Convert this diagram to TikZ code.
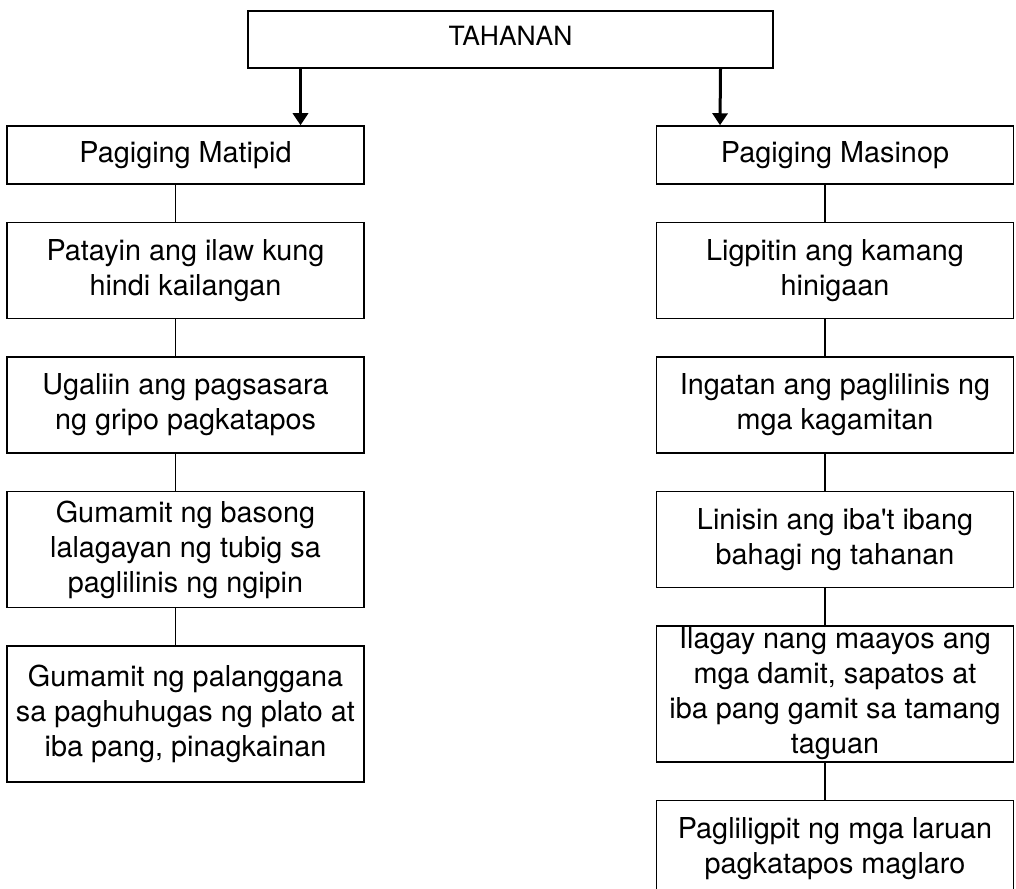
\documentclass[tikz,border=0pt]{standalone}
\usepackage{fontspec}
\setmainfont{TeX Gyre Heros}
\usepackage{tikz}
\usetikzlibrary{arrows.meta, positioning}

\begin{document}
\begin{tikzpicture}[
    x=1pt, y=1pt,
    node distance=37pt,
    topic/.style={rectangle, draw=black, line width=1.5pt, minimum width=525pt, minimum height=57pt, inner sep=0pt, text depth=8pt, text centered, font=\fontsize{26.5}{32}\selectfont},
    item/.style={rectangle, draw=black, line width=1.5pt, minimum width=357pt, minimum height=58pt, inner sep=0pt, align=center, font=\fontsize{28.8}{35}\selectfont},
    arrow/.style={-{Triangle[length=12pt, width=15pt]}, line width=3pt},
    link/.style={line width=1.5pt}
]
\useasboundingbox (0,0) rectangle (1016,-888);

% Top node
\node[topic] (tahanan) at (510.5,-39.5) {TAHANAN};

% Left column
\node[item] (matipid) at (185.5,-155) {Pagiging Matipid};
\node[item, below=of matipid, minimum height=96pt] (ilaw) {Patayin ang ilaw kung\\hindi kailangan};
\node[item, below=of ilaw, minimum height=96pt] (gripo) {Ugaliin ang pagsasara\\ng gripo pagkatapos};
\node[item, below=of gripo, minimum height=116pt] (baso) {Gumamit ng basong\\lalagayan ng tubig sa\\paglilinis ng ngipin};
\node[item, below=of baso, minimum height=136pt] (palanggana) {Gumamit ng palanggana\\sa paghuhugas ng plato at\\iba pang, pinagkainan};

% Right column
\node[item] (masinop) at (835,-155) {Pagiging Masinop};
\node[item, below=of masinop, minimum height=96pt] (kama) {Ligpitin ang kamang\\hinigaan};
\node[item, below=of kama, minimum height=96pt] (kagamitan) {Ingatan ang paglilinis ng\\mga kagamitan};
\node[item, below=of kagamitan, minimum height=96pt] (bahagi) {Linisin ang iba\textquotesingle t ibang\\bahagi ng tahanan};
\node[item, below=of bahagi, minimum height=136pt] (damit) {Ilagay nang maayos ang\\mga damit, sapatos at\\iba pang gamit sa tamang\\taguan};
\node[item, below=of damit, minimum height=96pt] (laruan) {Pagliligpit ng mga laruan\\pagkatapos maglaro};

% Arrows from the top
\draw[arrow] ([xshift=-210pt]tahanan.south) -- ([xshift=115pt]matipid.north);
\draw[arrow] ([xshift=210pt]tahanan.south) -- ([xshift=-115pt]masinop.north);

% Links down each column
\draw[link] ([xshift=-10pt]matipid.south) -- ([xshift=-10pt]ilaw.north);
\draw[link] ([xshift=-10pt]ilaw.south) -- ([xshift=-10pt]gripo.north);
\draw[link] ([xshift=-10pt]gripo.south) -- ([xshift=-10pt]baso.north);
\draw[link] ([xshift=-10pt]baso.south) -- ([xshift=-10pt]palanggana.north);

\draw[link] ([xshift=-10pt]masinop.south) -- ([xshift=-10pt]kama.north);
\draw[link] ([xshift=-10pt]kama.south) -- ([xshift=-10pt]kagamitan.north);
\draw[link] ([xshift=-10pt]kagamitan.south) -- ([xshift=-10pt]bahagi.north);
\draw[link] ([xshift=-10pt]bahagi.south) -- ([xshift=-10pt]damit.north);
\draw[link] ([xshift=-10pt]damit.south) -- ([xshift=-10pt]laruan.north);

\end{tikzpicture}
\end{document}
